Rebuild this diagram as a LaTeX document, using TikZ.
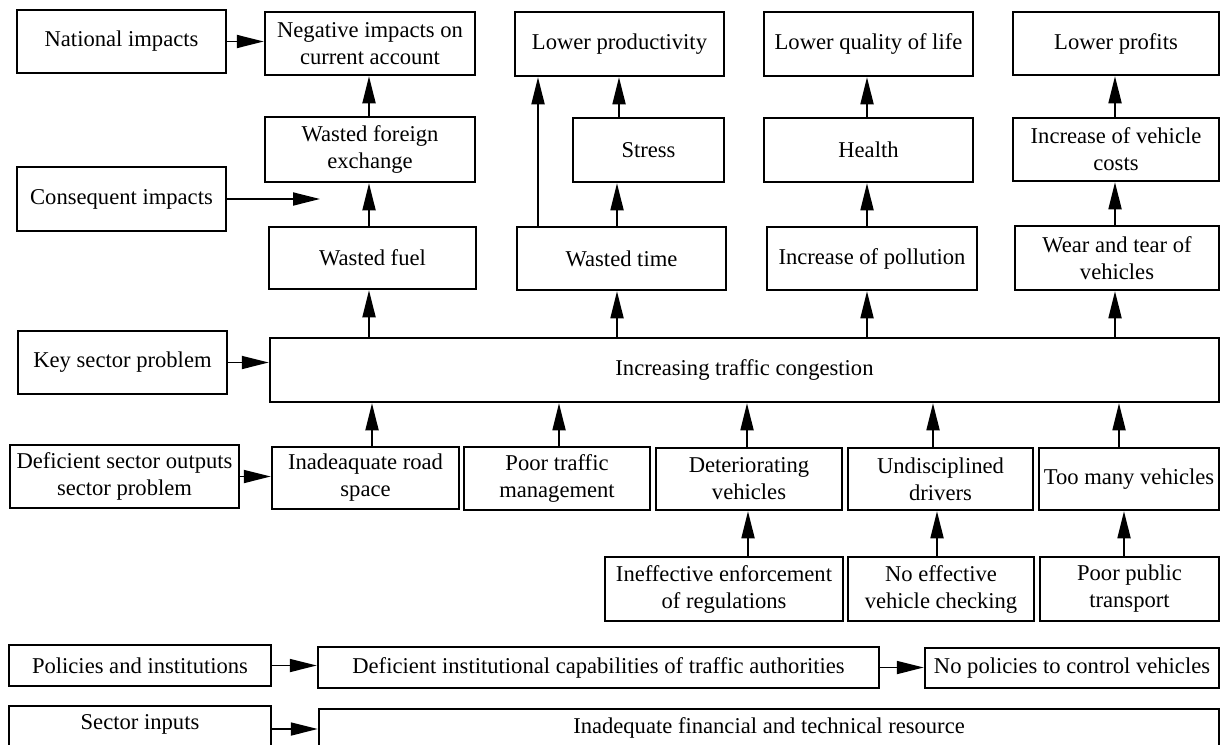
\documentclass[tikz,border=0pt]{standalone}
\usepackage{fontspec}
\setmainfont{Liberation Serif}
\usetikzlibrary{arrows.meta}
\tikzset{
  box/.style={draw, line width=2.5pt, align=center, inner sep=1pt, font=\fontsize{22.6}{27}\selectfont},
  sz/.style 2 args={minimum width=#1pt, minimum height=#2pt},
  arr/.style={line width=1.8pt, -{Triangle[length=27pt,width=13pt]}},
}
\begin{document}
\begin{tikzpicture}[x=1pt,y=-1pt]
\useasboundingbox (0,0) rectangle (1223,744);
\clip (0,0) rectangle (1223,744);
% nodes
\node[box, sz={209}{63}] (nat) at (121.5,41.5) {National impacts};
\node[box, sz={210}{63}] (neg) at (370,43.5) {Negative impacts on\\current account};
\node[box, sz={209}{64}] (lprod) at (619.5,44) {Lower productivity};
\node[box, sz={209}{64}] (lqol) at (868.5,44) {Lower quality of life};
\node[box, sz={206}{63}] (lprof) at (1116,43.5) {Lower profits};
\node[box, sz={210}{65}] (wfe) at (370,149.5) {Wasted foreign\\exchange};
\node[box, sz={209}{64}] (cons) at (121.5,199) {Consequent impacts};
\node[box, sz={151}{64}] (stress) at (648.5,150) {Stress};
\node[box, sz={209}{64}] (health) at (868.5,150) {Health};
\node[box, sz={206}{63}] (ivc) at (1116,149.5) {Increase of vehicle\\costs};
\node[box, sz={207}{62}] (wfuel) at (372.5,258) {Wasted fuel};
\node[box, sz={209}{63}] (wtime) at (621.5,258.5) {Wasted time};
\node[box, sz={210}{63}] (poll) at (872,258.5) {Increase of pollution};
\node[box, sz={204}{64}] (wear) at (1117,258) {Wear and tear of\\vehicles};
\node[box, sz={209}{63}] (key) at (122.5,362.5) {Key sector problem};
\node[box, sz={949}{64}] (cong) at (744.5,370) {Increasing traffic congestion};
\node[box, sz={229}{63}] (dso) at (124.5,476.5) {Deficient sector outputs\\sector problem};
\node[box, sz={187}{62}] (road) at (365.5,478) {Inadeaquate road\\space};
\node[box, sz={186}{63}] (ptm) at (557,478.5) {Poor traffic\\management};
\node[box, sz={186}{62}] (det) at (749,479) {Deteriorating\\vehicles};
\node[box, sz={185}{62}] (und) at (940.5,479) {Undisciplined\\drivers};
\node[box, sz={180}{62}] (many) at (1129,479) {Too many vehicles};
\node[box, sz={238}{64}] (ineff) at (724,589) {Ineffective enforcement\\of regulations};
\node[box, sz={186}{64}] (noeff) at (941,589) {No effective\\vehicle checking};
\node[box, sz={179}{64}] (ppt) at (1129.5,589) {Poor public\\transport};
\node[box, sz={262}{41}] (pol) at (140,665.5) {Policies and institutions};
\node[box, sz={561}{41}] (dic) at (598.5,667.5) {Deficient institutional capabilities of traffic authorities};
\node[box, sz={294}{40}] (nop) at (1072,668) {No policies to control vehicles};
\node[box, sz={262}{46}, text height=15pt, text depth=14pt] (sin) at (140,729) {Sector inputs};
\node[box, sz={900}{48}, text height=15pt, text depth=14pt] (ifr) at (769,733) {Inadequate financial and technical resource};
% column coordinates
\coordinate (cend) at (320,0);
\coordinate (xa) at (369,0);
\coordinate (xb) at (617,0);
\coordinate (xb2) at (619,0);
\coordinate (xc) at (538,0);
\coordinate (xd) at (867,0);
\coordinate (xe) at (1115,0);
\coordinate (b1) at (372,0);
\coordinate (b2) at (559,0);
\coordinate (b3) at (747,0);
\coordinate (b4) at (933,0);
\coordinate (b5) at (1119,0);
\coordinate (c3) at (748,0);
\coordinate (c4) at (937,0);
\coordinate (c5) at (1124,0);
% horizontal arrows
\draw[arr] (nat.east) -- (nat.east -| neg.west);
\draw[arr] (cons.east) -- (cons.east -| cend);
\draw[arr] (key.east) -- (key.east -| cong.west);
\draw[arr] (dso.east) -- (dso.east -| road.west);
\draw[arr] (pol.east) -- (pol.east -| dic.west);
\draw[arr] (dic.east) -- (dic.east -| nop.west);
\draw[arr] (sin.east) -- (sin.east -| ifr.west);
% upward chains
\draw[arr] (cong.north -| xa) -- (wfuel.south -| xa);
\draw[arr] (wfuel.north -| xa) -- (wfe.south -| xa);
\draw[arr] (wfe.north -| xa) -- (neg.south -| xa);
\draw[arr] (cong.north -| xb) -- (wtime.south -| xb);
\draw[arr] (wtime.north -| xb) -- (stress.south -| xb);
\draw[arr] (stress.north -| xb2) -- (lprod.south -| xb2);
\draw[arr] (wtime.north -| xc) -- (lprod.south -| xc);
\draw[arr] (cong.north -| xd) -- (poll.south -| xd);
\draw[arr] (poll.north -| xd) -- (health.south -| xd);
\draw[arr] (health.north -| xd) -- (lqol.south -| xd);
\draw[arr] (cong.north -| xe) -- (wear.south -| xe);
\draw[arr] (wear.north -| xe) -- (ivc.south -| xe);
\draw[arr] (ivc.north -| xe) -- (lprof.south -| xe);
% into congestion
\draw[arr] (road.north -| b1) -- (cong.south -| b1);
\draw[arr] (ptm.north -| b2) -- (cong.south -| b2);
\draw[arr] (det.north -| b3) -- (cong.south -| b3);
\draw[arr] (und.north -| b4) -- (cong.south -| b4);
\draw[arr] (many.north -| b5) -- (cong.south -| b5);
% causes
\draw[arr] (ineff.north -| c3) -- (det.south -| c3);
\draw[arr] (noeff.north -| c4) -- (und.south -| c4);
\draw[arr] (ppt.north -| c5) -- (many.south -| c5);
\end{tikzpicture}
\end{document}
